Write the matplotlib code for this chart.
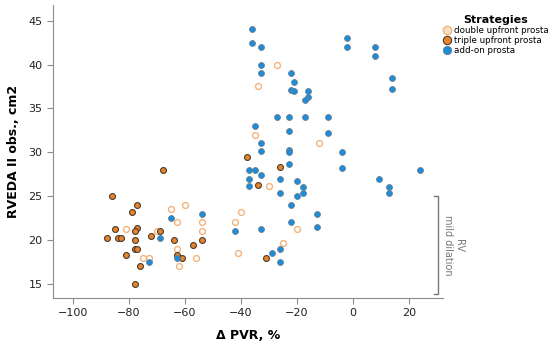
import matplotlib.pyplot as plt
from matplotlib.lines import Line2D

# double upfront prosta
double_x = [-65, -60, -63, -54, -81, -70, -54, -63, -75, -73, -56, -62, -40, -42, -41,
            -30, -25, -20, -27, -34, -35, -12]
double_y = [23.5, 24, 22, 22, 21.2, 21, 21, 19, 18, 18, 18, 17, 23.2, 22, 18.5,
            26.2, 19.6, 21.2, 40, 37.6, 32, 31]

# triple upfront prosta
triple_x = [-38, -68, -86, -77, -79, -77, -85, -78, -69, -88, -84, -83, -78, -72, -64,
            -54, -78, -77, -57, -81, -63, -61, -76, -78, -26, -34, -31]
triple_y = [29.5, 28, 25, 24, 23.2, 21.4, 21.2, 21, 21, 20.2, 20.2, 20.2, 20, 20.4, 20,
            20, 19, 19, 19.4, 18.3, 18.3, 18, 17, 15, 28.3, 26.3, 18]

# add-on prosta
addon_x = [-54, -65, -69, -73, -63, -42,
           -37, -35, -37, -37, -33, -33, -23, -23, -4, -23, -4, -26, -20, -18, -26, -20, -18,
           9.2, 13, 13, 24, -22, -13, -22, -13, -33, -26, -29, -26,
           -36, -36, -33, -2, -2, 8, 8, -33, -33, -22, -21, -22, -21, -16, -16, -17, 14, 14,
           -27, -23, -17, -9, -35, -23, -9, -33]
addon_y = [23, 22.5, 20.2, 17.5, 18, 21,
           28, 28, 27, 26.2, 27.4, 30.1, 30.2, 30, 30, 28.7, 28.2, 27, 26.7, 26, 25.3, 25, 25.3,
           27, 26, 25.4, 28, 24, 23, 22, 21.5, 21.3, 19, 18.5, 17.5,
           44, 42.5, 42, 43, 42, 42, 41, 40, 39, 39, 38, 37.1, 37, 37, 36.3, 36, 38.5, 37.2,
           34, 34, 34, 34, 33, 32.4, 32.2, 31]

labels = ["double upfront prosta", "triple upfront prosta", "add-on prosta"]

blue = "#1a8ddb"
orange = "#e9842b"
light = "#f3b47c"
grey = "#8c8c8c"

fig = plt.figure(figsize=(5.5, 3.5), dpi=100)
ax = fig.add_axes([0.0964, 0.149, 0.709, 0.837])

ax.scatter(double_x, double_y, s=18, facecolor="white", edgecolor=light, linewidth=1.0, zorder=3)
ax.scatter(triple_x, triple_y, s=18, facecolor=orange, edgecolor="#4a3c30", linewidth=0.8, zorder=3)
ax.scatter(addon_x, addon_y, s=18, facecolor=blue, edgecolor="#6d7f8c", linewidth=0.6, zorder=3)

ax.set_xlim(-107.1, 32.1)
ax.set_ylim(13.4, 46.8)
ax.set_xticks([-100, -80, -60, -40, -20, 0, 20])
ax.set_yticks([15, 20, 25, 30, 35, 40, 45])

for side in ["top", "right"]:
    ax.spines[side].set_visible(False)
for side in ["left", "bottom"]:
    ax.spines[side].set_color(grey)
    ax.spines[side].set_linewidth(0.8)
ax.tick_params(colors=grey, labelcolor="#222222", labelsize=8, length=4, width=0.8)

ax.set_xlabel("Δ PVR, %", fontsize=9, fontweight="bold", labelpad=8)
ax.set_ylabel("RVEDA II obs., cm2", fontsize=9, fontweight="bold", labelpad=6)

# RV mild dilation bracket
bx = 30.4
ax.plot([bx - 1.6, bx, bx, bx - 1.6], [25, 25, 13.8, 13.8], color="#777777",
        linewidth=1.0, clip_on=False)
ax.text(bx + 5.5, 19.4, "RV\nmild dilation", rotation=270, ha="center", va="center",
        fontsize=7, color="#777777", linespacing=1.2, clip_on=False)

handles = [
    Line2D([], [], marker="o", linestyle="", markersize=6, markerfacecolor="#f7e0c8",
           markeredgecolor=light, markeredgewidth=1.0),
    Line2D([], [], marker="o", linestyle="", markersize=6, markerfacecolor=orange,
           markeredgecolor="#4a3c30", markeredgewidth=0.8),
    Line2D([], [], marker="o", linestyle="", markersize=6, markerfacecolor=blue,
           markeredgecolor="#6d7f8c", markeredgewidth=0.6),
]
leg = fig.legend(handles, labels, title="Strategies", loc="upper left",
                 bbox_to_anchor=(0.797, 0.967), frameon=False, fontsize=6.3,
                 handletextpad=0.2, borderaxespad=0, labelspacing=0.12, handlelength=1.2)
leg.get_title().set_fontweight("bold")
leg.get_title().set_fontsize(8)

fig.savefig("out.png", dpi=100)
